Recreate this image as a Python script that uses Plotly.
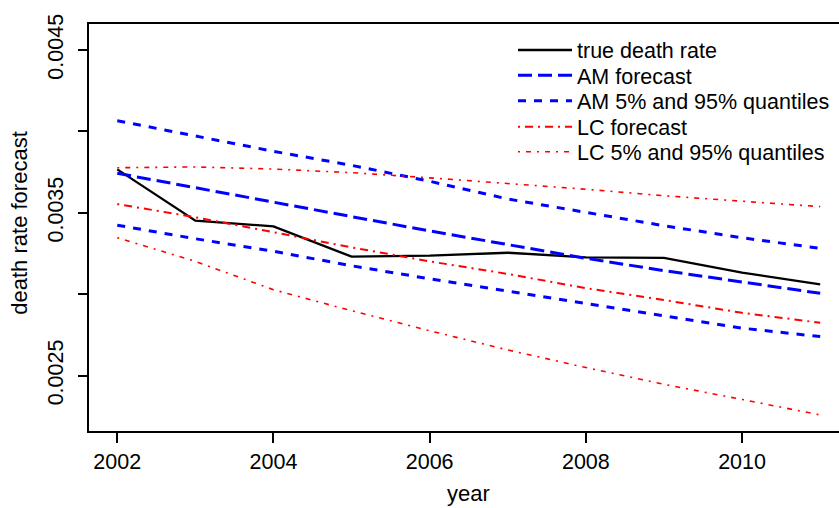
import plotly.graph_objects as go

years = list(range(2002, 2012))
true_rate = [0.003767, 0.003452, 0.003417, 0.003231, 0.003237, 0.003255, 0.003227, 0.003223, 0.003133, 0.003061]
am_forecast = [0.003743, 0.003653, 0.003567, 0.003477, 0.003389, 0.003307, 0.003221, 0.003145, 0.003077, 0.003006]
am_q95 = [0.004066, 0.003970, 0.003878, 0.003792, 0.003694, 0.003585, 0.003501, 0.003421, 0.003347, 0.003282]
am_q05 = [0.003424, 0.003341, 0.003264, 0.003175, 0.003095, 0.003020, 0.002942, 0.002871, 0.002792, 0.002740]
lc_forecast = [0.003554, 0.003473, 0.003381, 0.003288, 0.003202, 0.003125, 0.003037, 0.002965, 0.002886, 0.002825]
lc_q95 = [0.003777, 0.003782, 0.003769, 0.003747, 0.003715, 0.003681, 0.003645, 0.003605, 0.003570, 0.003538]
lc_q05 = [0.003347, 0.003202, 0.003028, 0.002899, 0.002776, 0.002658, 0.002550, 0.002447, 0.002354, 0.002259]

x_ticks = [2002, 2004, 2006, 2008, 2010]
y_ticks = [0.0025, 0.0030, 0.0035, 0.0040, 0.0045]
y_tick_text = ["0.0025", "", "0.0035", "", "0.0045"]

legend_names = ["true death rate", "AM forecast", "AM 5% and 95% quantiles",
                "LC forecast", "LC 5% and 95% quantiles"]

FONT = "Liberation Sans, Arial, Helvetica, sans-serif"
W, H = 839, 508
L, R, T, B = 89, 0, 24, 77
PW, PH = W - L - R, H - T - B

def px_x(p):
    return (p - L) / PW

def px_y(p):
    return (H - B - p) / PH

BLUE = "#0000FF"
RED = "#FF0000"

styles = [
    dict(color="black", width=2.3, dash="solid"),
    dict(color=BLUE, width=3, dash="14px,6px"),
    dict(color=BLUE, width=3, dash="8px,8px"),
    dict(color=RED, width=2, dash="2px,5px,8px,5px"),
    dict(color=RED, width=1.6, dash="2px,6px,5px,6px"),
]

fig = go.Figure()
series = [
    (true_rate, 0, True, "legend"),
    (am_forecast, 1, True, "legend2"),
    (am_q95, 2, True, "legend3"),
    (am_q05, 2, False, "legend3"),
    (lc_forecast, 3, True, "legend4"),
    (lc_q95, 4, True, "legend5"),
    (lc_q05, 4, False, "legend5"),
]
for vals, si, show, leg in series:
    fig.add_trace(go.Scatter(
        x=years, y=vals, mode="lines", name=legend_names[si],
        line=styles[si], showlegend=show, legend=leg, hoverinfo="skip",
    ))

row_px = [50, 75.3, 100.7, 126.7, 151.7]
legend_x = px_x(513)
leg_common = dict(x=legend_x, xanchor="left", yanchor="middle",
                  bgcolor="rgba(0,0,0,0)", borderwidth=0,
                  font=dict(family=FONT, size=21.5, color="black"),
                  itemwidth=54, tracegroupgap=0)
fig.update_layout(
    legend=dict(y=px_y(row_px[0]), **leg_common),
    legend2=dict(y=px_y(row_px[1]), **leg_common),
    legend3=dict(y=px_y(row_px[2]), **leg_common),
    legend4=dict(y=px_y(row_px[3]), **leg_common),
    legend5=dict(y=px_y(row_px[4]), **leg_common),
)

axis_font = dict(family=FONT, size=21.5, color="black")
fig.update_xaxes(
    range=[2001.638, 2011.241], tickvals=x_ticks, ticktext=[str(v) for v in x_ticks],
    showline=True, linecolor="black", linewidth=1.5, mirror=True,
    ticks="outside", ticklen=10, tickwidth=1.5, tickcolor="black",
    showgrid=False, zeroline=False, tickfont=axis_font,
)
fig.update_yaxes(
    range=[0.0021604, 0.0046597], tickvals=y_ticks, ticktext=y_tick_text,
    showline=True, linecolor="black", linewidth=1.5,
    ticks="outside", ticklen=9, tickwidth=1.5, tickcolor="black",
    showgrid=False, zeroline=False, tickfont=axis_font, tickangle=-90,
    ticklabelstandoff=7,
)

fig.add_annotation(text="year", xref="paper", yref="paper", x=px_x(468.6), y=px_y(508),
                   xanchor="center", yanchor="bottom", showarrow=False,
                   font=dict(family=FONT, size=22, color="black"))
fig.add_annotation(text="death rate forecast", xref="paper", yref="paper", x=px_x(20),
                   y=px_y(223.7), xanchor="center", yanchor="middle", showarrow=False,
                   textangle=-90, font=dict(family=FONT, size=22, color="black"))

fig.update_layout(
    width=W, height=H, autosize=False,
    margin=dict(l=L, r=R, t=T, b=B, pad=0),
    paper_bgcolor="white", plot_bgcolor="white",
    font=dict(family=FONT, color="black"),
)

fig.write_html("out.html")
